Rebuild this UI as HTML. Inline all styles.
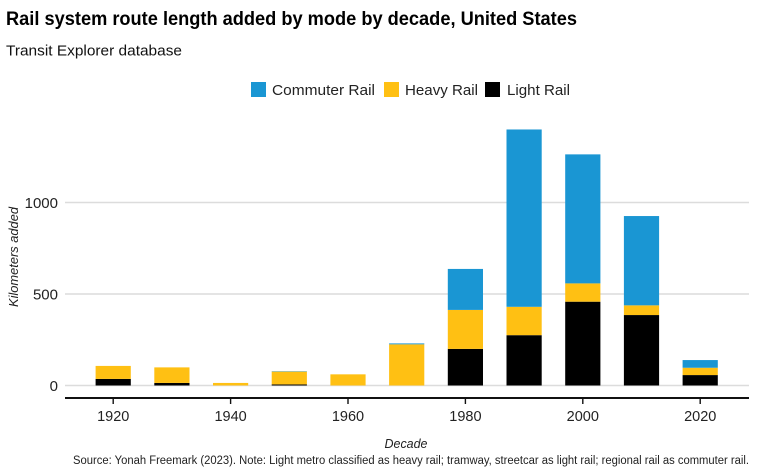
<!DOCTYPE html>
<html>
<head>
<meta charset="utf-8">
<style>
html,body{margin:0;padding:0;background:#fff;}
svg{display:block;font-family:"Liberation Sans",sans-serif;}
</style>
</head>
<body>
<svg id="chart" width="768" height="473" viewBox="0 0 768 473" xmlns="http://www.w3.org/2000/svg">
<rect width="768" height="473" fill="#fff"/>
<text x="6" y="25" font-size="19" font-weight="bold" fill="#000" textLength="571" lengthAdjust="spacingAndGlyphs">Rail system route length added by mode by decade, United States</text>
<text x="6" y="55.5" font-size="15" fill="#111" textLength="176" lengthAdjust="spacingAndGlyphs">Transit Explorer database</text>
<g>
<rect x="251" y="82" width="15" height="15" fill="#1a96d3"/>
<text x="272" y="95" font-size="15" fill="#222" textLength="103" lengthAdjust="spacingAndGlyphs">Commuter Rail</text>
<rect x="384" y="82" width="15" height="15" fill="#ffc013"/>
<text x="405" y="95" font-size="15" fill="#222" textLength="73" lengthAdjust="spacingAndGlyphs">Heavy Rail</text>
<rect x="485" y="82" width="15" height="15" fill="#000"/>
<text x="507" y="95" font-size="15" fill="#222" textLength="63" lengthAdjust="spacingAndGlyphs">Light Rail</text>
</g>
<g id="grid"></g>
<g id="bars"></g>
<g id="axes"></g>
<text transform="translate(18,257) rotate(-90)" text-anchor="middle" font-size="13" font-style="italic" fill="#222" textLength="100" lengthAdjust="spacingAndGlyphs">Kilometers added</text>
<text x="406" y="448" text-anchor="middle" font-size="13" font-style="italic" fill="#222" textLength="43" lengthAdjust="spacingAndGlyphs">Decade</text>
<text x="749" y="464" text-anchor="end" font-size="11.5" fill="#222" textLength="676" lengthAdjust="spacingAndGlyphs">Source: Yonah Freemark (2023). Note: Light metro classified as heavy rail; tramway, streetcar as light rail; regional rail as commuter rail.</text>
</svg>
<script>
const decades = [1920, 1930, 1940, 1950, 1960, 1970, 1980, 1990, 2000, 2010, 2020];
const lightRail = [36, 14, 0, 6, 0, 0, 200, 275, 458, 385, 57];
const heavyRail = [71, 85, 14, 70, 61, 225, 213, 155, 100, 53, 40];
const commuterRail = [0, 0, 0, 2, 0, 5, 224, 969, 705, 488, 42];
const xTicks = [1920, 1940, 1960, 1980, 2000, 2020];
const yTicks = [0, 500, 1000];
const NS = 'http://www.w3.org/2000/svg';
const xScale = function (year) { return 113.2 + (year - 1920) * 5.87; };
const yScale = function (v) { return 385.5 - v * 0.183; };
const barWidth = 35.2;
const grid = document.getElementById('grid');
const bars = document.getElementById('bars');
const axes = document.getElementById('axes');
function make(tag, attrs, parent) {
  const el = document.createElementNS(NS, tag);
  Object.keys(attrs).forEach(function (k) { el.setAttribute(k, attrs[k]); });
  parent.appendChild(el);
  return el;
}
yTicks.forEach(function (t) {
  const line = make('line', { x1: 65, x2: 749, y1: yScale(t), y2: yScale(t), stroke: '#dcdcdc', 'stroke-width': 1.6 }, grid);
  
  
  const label = make('text', { x: 58, y: yScale(t) + 5.5, 'text-anchor': 'end', 'font-size': 15, fill: '#222' }, axes);
  label.textContent = String(t);
  
  
});
const seriesList = [
  { key: 'light-rail', values: lightRail, color: '#000000' },
  { key: 'heavy-rail', values: heavyRail, color: '#ffc013' },
  { key: 'commuter-rail', values: commuterRail, color: '#1a96d3' }
];
decades.forEach(function (d, i) {
  let base = 0;
  seriesList.forEach(function (s) {
    const v = s.values[i];
    if (v <= 0) { return; }
    const top = base + v;
    const r = make('rect', { x: xScale(d) - barWidth / 2, y: yScale(top), width: barWidth, height: yScale(base) - yScale(top), fill: s.color }, bars);
    
    
    base = top;
  });
});
const axisLine = make('line', { x1: 65, x2: 749, y1: 398, y2: 398, stroke: '#111', 'stroke-width': 2 }, axes);


xTicks.forEach(function (t) {
  const tick = make('line', { x1: xScale(t), x2: xScale(t), y1: 398, y2: 404, stroke: '#111', 'stroke-width': 1.4 }, axes);
  
  
  const label = make('text', { x: xScale(t), y: 421, 'text-anchor': 'middle', 'font-size': 14.5, fill: '#222' }, axes);
  label.textContent = String(t);
  
  
});
</script>
</body>
</html>
